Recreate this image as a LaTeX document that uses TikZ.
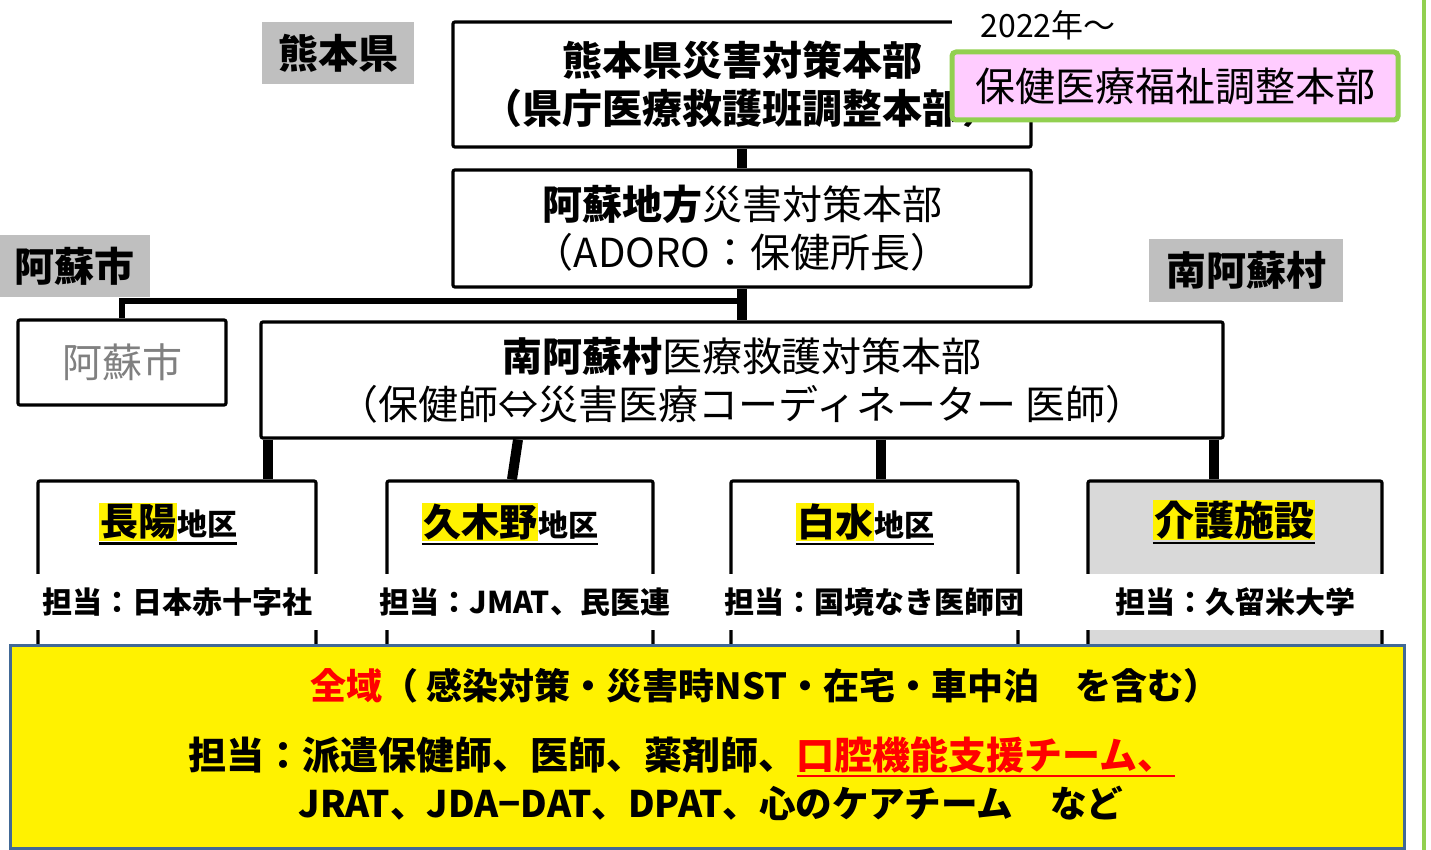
\documentclass[tikz,border=0pt]{standalone}
\usepackage{fontspec}
\setmainfont{Noto Sans CJK JP}
\definecolor{lblgray}{RGB}{191,191,191}
\definecolor{boxgray}{RGB}{217,217,217}
\definecolor{lgreen}{RGB}{146,208,80}
\definecolor{pinkf}{RGB}{255,204,255}
\definecolor{bblue}{RGB}{65,105,150}
\definecolor{txtgray}{RGB}{128,128,128}
\newcommand\myul[1]{\vtop{\hbox{#1}\kern0.6pt\hrule height 1.3pt}}
\newcommand\hly[1]{{\setlength\fboxsep{0.6pt}\colorbox{yellow}{#1}}}
\begin{document}
\begin{tikzpicture}[x=0.5pt,y=-0.5pt,
  box/.style={draw=black,line width=1.6pt,fill=white,inner sep=0pt,align=center,rounded corners=1pt},
  lbl/.style={fill=lblgray,inner sep=0pt,font=\bfseries\fontsize{20}{24}\selectfont},
  conn/.style={line width=5pt},
  thinconn/.style={line width=2.6pt},
  dlabel/.style={inner sep=0pt,font=\bfseries},
  tanto/.style={fill=white,inner sep=0pt,minimum height=28pt,font=\bfseries\fontsize{15}{18}\selectfont},
  yline/.style={inner sep=0pt,font=\bfseries\fontsize{19}{22}\selectfont}
]
\useasboundingbox (0,0) rectangle (1431,850);
\clip (0,0) rectangle (1431,850);
\fill[white] (0,0) rectangle (1431,850);
\draw[line width=2pt,draw=lgreen] (1424,0) -- (1424,850);

% top
\node[box,minimum width=289pt,minimum height=62.5pt,font=\bfseries\fontsize{20}{24}\selectfont] (ken) at (742,84.5) {熊本県災害対策本部\\（県庁医療救護班調整本部）};
\node[fill=white,inner sep=0pt,minimum width=96pt,minimum height=26pt,font=\fontsize{16}{19}\selectfont] (yr) at (1048,25) {2022年〜};
\node[draw=lgreen,line width=2.5pt,fill=pinkf,rounded corners=2pt,minimum width=223pt,minimum height=34pt,inner sep=0pt,font=\fontsize{20}{24}\selectfont] (hoken) at (1175,86) {保健医療福祉調整本部};

\node[box,minimum width=289pt,minimum height=58.5pt,font=\fontsize{20}{24}\selectfont] (aso) at (742,228.5) {{\bfseries 阿蘇地方}災害対策本部\\（ADORO：保健所長）};
\draw[conn] (ken.south) -- (aso.north);

% labels
\node[lbl,minimum width=76pt,minimum height=31pt] (lken) at (338,53) {熊本県};
\node[lbl,minimum width=75pt,minimum height=31pt] (lasoc) at (75,266) {阿蘇市};
\node[lbl,minimum width=97pt,minimum height=31.5pt] (lmina) at (1246,270.5) {南阿蘇村};

\node[box,minimum width=104pt,minimum height=42.5pt,text=txtgray,font=\fontsize{20}{24}\selectfont] (asoc) at (122,362.5) {阿蘇市};
\node[box,minimum width=481pt,minimum height=58pt,font=\fontsize{20}{24}\selectfont] (mina) at (742,380) {{\bfseries 南阿蘇村}医療救護対策本部\\（保健師⇔災害医療コーディネーター 医師）};

\coordinate (jn) at (742,301);
\draw[conn] (aso.south) -- (mina.north);
\draw[thinconn] (jn) -| (asoc.north);

% districts
\node[box,minimum width=139pt,minimum height=194.5pt] (d1) at (177,675.5) {};
\node[box,minimum width=133pt,minimum height=194.5pt] (d2) at (520,675.5) {};
\node[box,minimum width=143.5pt,minimum height=194.5pt] (d3) at (874.5,675.5) {};
\node[box,fill=boxgray,minimum width=147pt,minimum height=194.5pt] (d4) at (1235,675.5) {};

\coordinate (x1) at (268,0);
\coordinate (x2a) at (518,0);
\coordinate (x2b) at (512,0);
\coordinate (x3) at (881,0);
\coordinate (x4) at (1214,0);
\draw[conn] (mina.south -| x1) -- (d1.north -| x1);
\draw[conn] (mina.south -| x2a) -- (d2.north -| x2b);
\draw[conn] (mina.south -| x3) -- (d3.north -| x3);
\draw[conn] (mina.south -| x4) -- (d4.north -| x4);

\node[dlabel] (t1) at (168,524) {\myul{\hly{\fontsize{19}{22}\selectfont 長陽}\fontsize{15}{18}\selectfont 地区}};
\node[dlabel] (t2) at (510,524) {\myul{\hly{\fontsize{19}{22}\selectfont 久木野}\fontsize{15}{18}\selectfont 地区}};
\node[dlabel] (t3) at (865,524) {\myul{\hly{\fontsize{19}{22}\selectfont 白水}\fontsize{15}{18}\selectfont 地区}};
\node[dlabel] (t4) at (1234,522) {\myul{\hly{\fontsize{20}{24}\selectfont 介護施設}}};

\node[tanto,minimum width=143pt] (a1) at (177,602) {担当：日本赤十字社};
\node[tanto,minimum width=141pt] (a2) at (525,602) {担当：JMAT、民医連};
\node[tanto,minimum width=148pt] (a3) at (874.5,602) {担当：国境なき医師団};
\node[tanto,minimum width=151pt] (a4) at (1235,602) {担当：久留米大学};

% bottom
\node[draw=bblue,line width=1.5pt,fill=yellow,minimum width=697pt,minimum height=101.5pt,inner sep=0pt] (all) at (707,746.5) {};
\node[yline,font=\bfseries\fontsize{18}{22}\selectfont] (l1) at (765,686) {\textcolor{red}{全域}（ 感染対策・災害時NST・在宅・車中泊　を含む）};
\node[yline] (l2) at (682,757) {担当：派遣保健師、医師、薬剤師、\textcolor{red}{\myul{口腔機能支援チーム、}}};
\node[yline,font=\bfseries\fontsize{18.3}{22}\selectfont] (l3) at (711,803) {JRAT、JDA−DAT、DPAT、心のケアチーム　など};
\end{tikzpicture}
\end{document}
